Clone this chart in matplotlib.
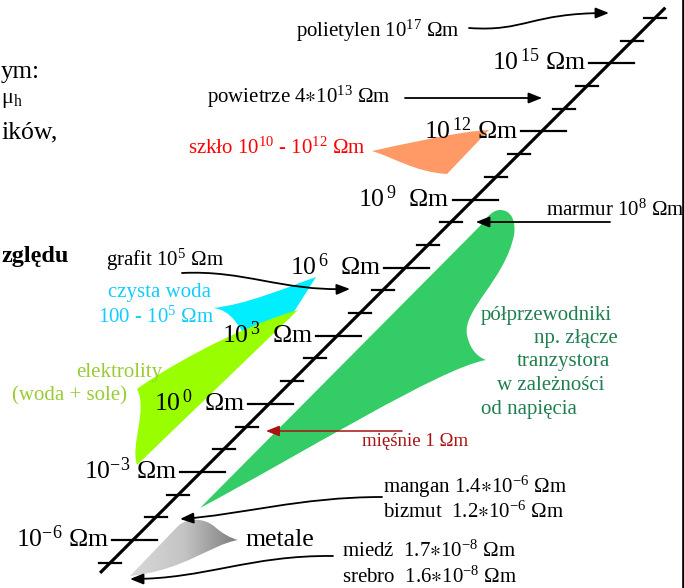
import numpy as np
import matplotlib
matplotlib.use('Agg')
import matplotlib.pyplot as plt
from matplotlib.path import Path
from matplotlib.patches import PathPatch, FancyArrowPatch
from matplotlib.colors import LinearSegmentedColormap

plt.rcParams['font.family'] = ['Liberation Serif', 'DejaVu Serif']
plt.rcParams['mathtext.fontset'] = 'custom'
plt.rcParams['mathtext.rm'] = 'Liberation Serif'
plt.rcParams['mathtext.it'] = 'Liberation Serif:italic'
plt.rcParams['mathtext.bf'] = 'Liberation Serif:bold'
plt.rcParams['mathtext.fallback'] = 'stix'
plt.rcParams['mathtext.default'] = 'regular'

# ---------------- data ----------------
tick_decades = list(range(-7, 18))            # one tick per decade of resistivity
major_exponents = [-6, -3, 0, 3, 6, 9, 12, 15]
unit = "Ωm"
STAR = "$\\mathrm{\\ast}$"

material_labels = [
    "polietylen 10$^{17}$ Ωm",
    "powietrze 4" + STAR + "10$^{13}$ Ωm",
    "marmur 10$^{8}$ Ωm",
    "grafit 10$^{5}$ Ωm",
    "mangan 1.4" + STAR + "10$^{-6}$ Ωm",
    "bizmut  1.2" + STAR + "10$^{-6}$ Ωm",
    "miedź  1.7" + STAR + "10$^{-8}$ Ωm",
    "srebro  1.6" + STAR + "10$^{-8}$ Ωm",
]
glass_label = "szkło 10$^{10}$ - 10$^{12}$ Ωm"
water_label = ["czysta woda", "100 - 10$^{5}$ Ωm"]
electrolyte_label = ["elektrolity", "(woda + sole)"]
muscle_label = "mięśnie 1 Ωm"
semi_label = ["półprzewodniki", "np. złącze", "tranzystora", "w zależności", "od napięcia"]
metal_label = "metale"
side_texts = ["ym:", "μ$_{h}$", "ików,", "zględu"]

# ---------------- figure ----------------
fig = plt.figure(figsize=(6.84, 5.88), dpi=100)
ax = fig.add_axes([0, 0, 1, 1])
ax.set_xlim(0, 684)
ax.set_ylim(588, 0)
ax.axis('off')

STEP = 22.7
X0, Y0 = 133.0, 540.0   # position of 10^-6 on the diagonal scale


def axis_xy(d):
    return X0 + (d + 6) * STEP, Y0 - (d + 6) * STEP


# ---- shapes ----
def bez_patch(verts, codes, **kw):
    p = PathPatch(Path(verts, codes), **kw)
    ax.add_patch(p)
    return p

M, L, C = Path.MOVETO, Path.LINETO, Path.CURVE4

# glass (orange)
bez_patch([(372, 151), (400, 145), (460, 131), (489, 130),
           (447, 174),
           (415, 172), (395, 158), (372, 151)],
          [M, C, C, C, L, C, C, C], facecolor='#FF9966', edgecolor='none', zorder=2)

# clean water (cyan)
bez_patch([(316, 277), (288, 287), (245, 305), (213, 308),
           (232, 310), (238, 326), (252, 346),
           (290, 318), (316, 277)],
          [M, C, C, C, C, C, C, L, L], facecolor='#00EEFF', edgecolor='none', zorder=2)

# electrolytes (yellow-green)
bez_patch([(298, 310), (137, 465),
           (130, 445), (148, 410), (137, 389),
           (160, 372), (230, 330), (298, 310)],
          [M, L, C, C, C, C, C, C], facecolor='#99FF00', edgecolor='none', zorder=3)

# semiconductors (green)
bez_patch([(200, 508), (480, 226),
           (488, 215), (494, 210), (500, 210),
           (512, 210), (516, 222), (514, 235),
           (505, 280), (462, 310), (467, 335),
           (470, 350), (478, 357), (486, 360),
           (440, 368), (300, 455), (200, 508)],
          [M, L, C, C, C, C, C, C, C, C, C, C, C, C, C, C, C],
          facecolor='#33CC66', edgecolor='none', zorder=2)

# metals (gray gradient)
metal = bez_patch([(130, 576), (178, 526),
                   (188, 517), (205, 518), (215, 527),
                   (222, 533), (230, 538), (238, 540),
                   (210, 545), (185, 570), (130, 576)],
                  [M, L, C, C, C, C, C, C, C, C, C],
                  facecolor='none', edgecolor='none', zorder=2)
cm = LinearSegmentedColormap.from_list('g', ['#DADADA', '#C4C4C4', '#7A7A7A'])
grad = np.linspace(0, 1, 256).reshape(1, -1)
im = ax.imshow(grad, extent=(128, 240, 580, 514), cmap=cm, aspect='auto', zorder=2)
im.set_clip_path(metal)
ax.set_xlim(0, 684)
ax.set_ylim(588, 0)

# ---- diagonal scale ----
xa, ya = axis_xy(-7.45)
xb, yb = axis_xy(17.45)
ax.plot([xa, xb], [ya, yb], color='black', lw=2.3, solid_capstyle='butt', zorder=5)
for d in tick_decades:
    x, y = axis_xy(d)
    if d in major_exponents:
        ax.plot([x - 21, x + 24], [y, y], color='black', lw=1.6, zorder=5)
        e = str(d)
        if d >= 0:
            s = "10$^{\\,%s}$" % e + ("  " if len(e) == 1 else " ") + unit
        else:
            s = "10$^{%s}$ " % e + unit
        ax.text(x - 24, y + 7, s, ha='right', va='baseline', fontsize=18.5, zorder=6)
    else:
        ax.plot([x - 11, x + 11], [y, y], color='black', lw=1.6, zorder=5)


# ---- arrows ----
def arrow(pts, color='black', lw=1.3, straight=False):
    if straight:
        path = Path(pts, [M, L])
    else:
        path = Path(pts, [M, C, C, C])
    a = FancyArrowPatch(path=path, arrowstyle='-|>,head_length=0.8,head_width=0.32',
                        mutation_scale=10, color=color, lw=lw, zorder=6)
    ax.add_patch(a)

arrow([(469, 28), (525, 32), (530, 13), (609, 13)])
arrow([(405, 98), (542, 98)], straight=True)
arrow([(610, 222), (476, 222)], straight=True)
arrow([(182, 273), (245, 270), (280, 291), (350, 289)])
arrow([(402, 431), (266, 431)], color='#AA1111', lw=1.1, straight=True)
arrow([(382, 497), (300, 497), (240, 515), (180, 519)])
arrow([(333, 556), (250, 555), (205, 579), (130, 579)])

# ---- texts ----
fs = 15
ax.text(296, 37, material_labels[0], fontsize=fs, va='baseline', zorder=7)
ax.text(207, 103, material_labels[1], fontsize=fs, va='baseline', zorder=7)
ax.text(546, 216, material_labels[2], fontsize=fs, va='baseline', zorder=7)
ax.text(106, 266, material_labels[3], fontsize=fs, va='baseline', zorder=7)
ax.text(383, 493, material_labels[4], fontsize=fs, va='baseline', zorder=7)
ax.text(383, 518, material_labels[5], fontsize=fs, va='baseline', zorder=7)
ax.text(342, 557, material_labels[6], fontsize=fs, va='baseline', zorder=7)
ax.text(342, 583, material_labels[7], fontsize=fs, va='baseline', zorder=7)
ax.text(188, 154, glass_label, fontsize=fs, color='#FF0000', va='baseline', zorder=7)
ax.text(160, 297, water_label[0], fontsize=fs, color='#11CCFF', ha='center', va='baseline', zorder=7)
ax.text(98, 323, water_label[1], fontsize=fs, color='#11CCFF', va='baseline', zorder=7)
ax.text(119, 377, electrolyte_label[0], fontsize=fs, color='#99CC33', ha='center', va='baseline', zorder=7)
ax.text(12, 400, electrolyte_label[1], fontsize=fs, color='#99CC33', va='baseline', zorder=7)
ax.text(362, 446, muscle_label, fontsize=13.5, color='#AA1111', va='baseline', zorder=7)
semi_pos = [(481, 320), (534, 343), (517, 366), (497, 390), (481, 414)]
for t, (x, y) in zip(semi_label, semi_pos):
    ax.text(x, y, t, fontsize=fs, color='#1F7F4F', va='baseline', zorder=7)
ax.text(245, 546, metal_label, fontsize=18.5, va='baseline', zorder=7)

# slide text cut by the crop on the left
ax.text(1, 78, side_texts[0], fontsize=18, ha='left', va='baseline')
ax.text(1, 103, side_texts[1], fontsize=16, ha='left', va='baseline')
ax.text(1, 138, side_texts[2], fontsize=18.5, ha='left', va='baseline')
ax.text(1, 262, side_texts[3], fontsize=17.5, fontweight='bold', ha='left', va='baseline')

# slide border on the right
ax.plot([682.8, 682.8], [0, 588], color='black', lw=1.9)

fig.savefig('out.png', dpi=100)
